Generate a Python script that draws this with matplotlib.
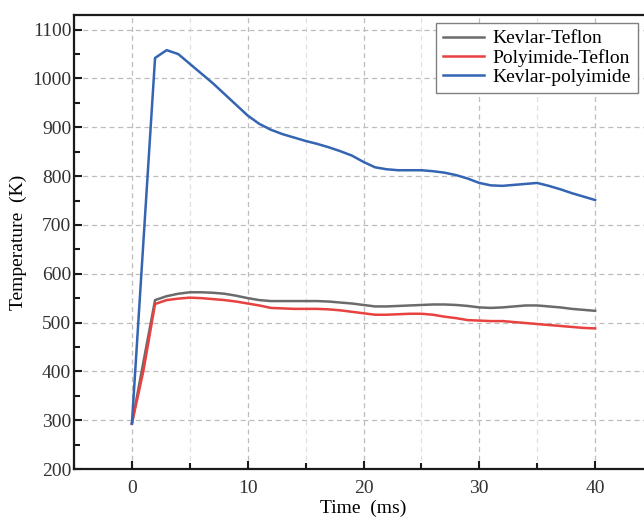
import matplotlib.pyplot as plt
import numpy as np
from matplotlib.ticker import MultipleLocator

plt.rcParams['font.family'] = ['Liberation Serif', 'DejaVu Serif']

time_ms = list(range(0, 41))

kevlar_teflon = [293, 420, 546, 554, 559, 562, 562, 561, 559, 555,
                 550, 546, 544, 544, 544, 544, 544, 543, 541, 539,
                 536, 533, 533, 534, 535, 536, 537, 537, 536, 534,
                 531, 530, 531, 533, 535, 535, 533, 531, 528, 526, 524]

polyimide_teflon = [293, 402, 538, 546, 549, 551, 550, 548, 546, 543,
                    539, 535, 530, 529, 528, 528, 528, 527, 525, 522,
                    519, 516, 516, 517, 518, 518, 516, 512, 509, 505,
                    504, 503, 503, 501, 499, 497, 495, 493, 491, 489, 488]

kevlar_polyimide = [293, 668, 1042, 1058, 1050, 1030, 1010, 990, 968, 946,
                    924, 907, 895, 886, 879, 872, 866, 859, 851, 842,
                    829, 818, 814, 812, 812, 812, 810, 807, 802, 795,
                    786, 781, 780, 782, 784, 786, 780, 773, 765, 758, 751]

labels = ["Kevlar-Teflon", "Polyimide-Teflon", "Kevlar-polyimide"]
colors = ["#6b6b6b", "#e8413f", "#3464b2"]

fig = plt.figure(figsize=(6.44, 5.26), dpi=100)
ax = fig.add_axes([74/644, 57/526, (653-74)/644, (469-15)/526])

for y, lab, c in zip([kevlar_teflon, polyimide_teflon, kevlar_polyimide], labels, colors):
    ax.plot(time_ms, y, color=c, lw=1.8, label=lab)

ax.set_xlim(-5, 45)
ax.set_ylim(200, 1130)
ax.xaxis.set_major_locator(MultipleLocator(10))
ax.xaxis.set_minor_locator(MultipleLocator(5))
ax.yaxis.set_major_locator(MultipleLocator(100))
ax.yaxis.set_minor_locator(MultipleLocator(50))

ax.grid(which='major', color='#bdbdbd', ls=(0, (4, 3)), lw=0.9)
ax.grid(which='minor', axis='x', color='#e0e0e0', ls=(0, (4, 3)), lw=0.9)
ax.set_axisbelow(True)

for s in ax.spines.values():
    s.set_linewidth(1.6)
    s.set_color('#1a1a1a')

ax.tick_params(which='both', direction='in', top=False, right=False,
               labelsize=14, width=1.5, colors='#1a1a1a')
ax.tick_params(which='major', length=6)
ax.tick_params(which='minor', length=4)
ax.tick_params(axis='x', pad=8)
ax.tick_params(axis='y', pad=2)
for t in ax.get_xticklabels() + ax.get_yticklabels():
    t.set_color('#333333')

ax.set_xlabel("Time  (ms)", fontsize=14, labelpad=2)
ax.set_ylabel("Temperature  (K)", fontsize=14, labelpad=4)

leg = ax.legend(loc='upper right', bbox_to_anchor=(638/644, 503/526),
                bbox_transform=fig.transFigure, borderaxespad=0,
                fancybox=False, framealpha=1, edgecolor='#808080',
                fontsize=14, handlelength=2.1, labelspacing=0.08,
                borderpad=0.35, handletextpad=0.45)
leg.get_frame().set_linewidth(1.0)

plt.savefig("out.png", dpi=100)
